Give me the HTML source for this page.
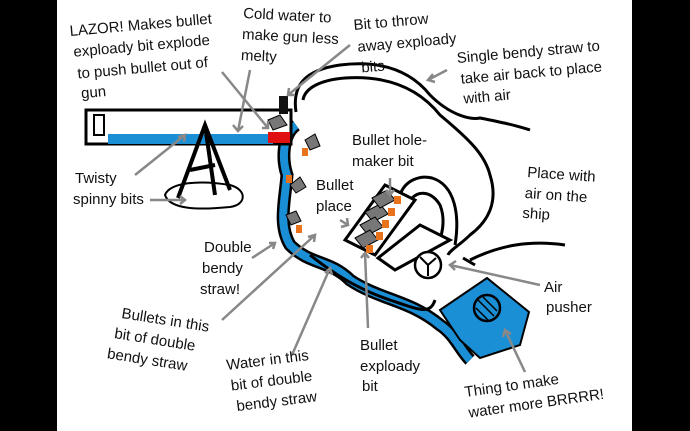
<!DOCTYPE html>
<html><head><meta charset="utf-8"><style>
html,body{margin:0;padding:0;background:#000;}
svg{display:block}
text{font-family:"Comic Sans MS","Liberation Sans",sans-serif;font-size:15px;fill:#111;}
</style></head><body>
<svg width="690" height="431" viewBox="0 0 690 431" xmlns="http://www.w3.org/2000/svg">
<rect x="0" y="0" width="690" height="431" fill="#000"/>
<rect x="57" y="0" width="575" height="431" fill="#fff"/>
<!-- outer hull -->
<path d="M296,112 C292,85 305,70 340,65 C380,60 410,70 430,95 C450,115 470,120 480,118 C500,122 515,125 530,130" fill="none" stroke="#000" stroke-width="3"/>
<path d="M303,100 C305,88 320,80 345,78 C390,75 420,90 440,115 C470,140 485,155 490,175 C498,200 490,220 470,235 C460,245 450,250 448,255" fill="none" stroke="#000" stroke-width="3"/>
<path d="M470,260 C500,245 530,240 565,245" fill="none" stroke="#000" stroke-width="3"/>
<path d="M463,258 L475,265" fill="none" stroke="#000" stroke-width="3"/>
<!-- inner U (bullet hole maker) -->
<path d="M400,195 C405,180 420,175 432,178 C455,185 460,215 455,245" fill="none" stroke="#000" stroke-width="3"/>
<path d="M412,198 C420,190 432,192 440,205 C446,220 442,235 438,245" fill="none" stroke="#000" stroke-width="3"/>
<!-- bullet place box -->
<polygon points="345,240 385,185 415,200 375,255" fill="#fff" stroke="#000" stroke-width="3"/>
<polygon points="378,258 420,225 450,240 395,270" fill="#fff" stroke="#000" stroke-width="3"/>
<g fill="#777" stroke="#000" stroke-width="1">
<path d="M365,212 l15,-8 l8,10 l-15,8z"/><path d="M360,225 l15,-8 l8,10 l-15,8z"/><path d="M355,238 l15,-8 l8,10 l-15,8z"/><path d="M372,198 l15,-8 l8,10 l-15,8z"/>
</g>
<g fill="#e8731c"><rect x="388" y="208" width="7" height="8"/><rect x="382" y="220" width="7" height="8"/><rect x="376" y="232" width="7" height="8"/><rect x="366" y="245" width="7" height="8"/><rect x="394" y="196" width="7" height="8"/></g>
<!-- air pusher -->
<circle cx="428" cy="265" r="13" fill="#fff" stroke="#000" stroke-width="2.5"/>
<path d="M428,265 L420,257 M428,265 L436,258 M428,265 L428,276" stroke="#000" stroke-width="2"/>
<!-- blue tube -->
<path d="M296,125 C282,135 282,160 287,175 C285,200 278,225 290,245 C310,265 330,260 350,280 C380,300 410,300 440,325 C455,335 460,350 470,360" fill="none" stroke="#000" stroke-width="13"/>
<path d="M296,125 C282,135 282,160 287,175 C285,200 278,225 290,245 C310,265 330,260 350,280 C380,300 410,300 440,325 C455,335 460,350 470,360" fill="none" stroke="#1b8fd6" stroke-width="8"/>
<path d="M310,255 C335,275 360,290 390,300 C420,310 430,315 435,300" fill="none" stroke="#000" stroke-width="3"/>
<!-- blue box -->
<polygon points="440,310 487,278 529,312 520,345 480,358 460,340" fill="#1b8fd6" stroke="#000" stroke-width="2"/>
<circle cx="487" cy="308" r="13" fill="#1b8fd6" stroke="#000" stroke-width="2.5"/>
<path d="M478,300 l16,16 M476,308 l12,12 M483,297 l14,14" stroke="#000" stroke-width="1.5"/>
<!-- gun barrel -->
<rect x="86" y="110" width="205" height="34" fill="#fff" stroke="#000" stroke-width="3"/>
<rect x="108" y="134" width="165" height="10" fill="#1b8fd6"/>
<rect x="268" y="132" width="22" height="11" fill="#e01010"/>
<rect x="94" y="115" width="10" height="20" fill="#fff" stroke="#000" stroke-width="2"/>
<rect x="279" y="96" width="9" height="18" fill="#111"/>
<path d="M268,120 l12,-5 l7,10 l-14,5z" fill="#777" stroke="#000"/>
<!-- twisty stand -->
<path d="M165,195 C170,182 200,180 230,185 C248,190 246,205 230,207 C200,210 170,210 165,195z" fill="#fff" stroke="#000" stroke-width="2"/>
<path d="M178,198 L205,125 L230,190 M190,170 L215,165 M205,125 L215,195" fill="none" stroke="#000" stroke-width="4"/>
<!-- small bullets along tube -->
<g fill="#777" stroke="#000"><path d="M290,185 l10,-8 l6,10 l-10,6z"/><path d="M305,140 l10,-6 l5,12 l-10,4z"/><path d="M286,215 l10,-4 l5,10 l-10,4z"/></g>
<g fill="#e8731c"><rect x="302" y="148" width="6" height="8"/><rect x="286" y="175" width="6" height="8"/><rect x="296" y="225" width="6" height="8"/></g>
<!-- arrows -->
<g stroke="#888" stroke-width="2.5" fill="none">
<path d="M222,72 L268,128 M262,128 L268,128 L268,121"/>
<path d="M250,70 L238,131 M233,125 L238,131 L243,126"/>
<path d="M350,45 L288,95 M289,88 L288,95 L295,95"/>
<path d="M447,70 L428,80 M433,74 L428,80 L435,82"/>
<path d="M135,175 L185,135 M178,137 L185,135 L184,142"/>
<path d="M150,200 L185,200 M180,196 L185,200 L180,204"/>
<path d="M252,258 L275,243 M269,243 L275,243 L273,249"/>
<path d="M222,320 L315,235 M308,237 L315,235 L314,242"/>
<path d="M292,355 L330,268 M325,273 L330,268 L332,275"/>
<path d="M368,328 L365,253 M361,258 L365,253 L369,258"/>
<path d="M340,220 L348,225 M341,227 L348,225 L347,218"/>
<path d="M390,178 L390,195 M386,190 L390,195 L394,190"/>
<path d="M540,285 L450,265 M456,261 L450,265 L455,270"/>
<path d="M525,372 L505,330 M503,337 L505,330 L511,334"/>
</g>
<!-- labels -->
<g transform="rotate(-5 70 35)"><text x="70" y="36">LAZOR! Makes bullet</text><text x="72" y="57">exploady bit explode</text><text x="74" y="79">to push bullet out of</text><text x="76" y="99">gun</text></g>
<g transform="rotate(3 243 17)"><text x="243" y="18">Cold water to</text><text x="243" y="39">make gun less</text><text x="243" y="60">melty</text></g>
<g transform="rotate(-5 354 30)"><text x="354" y="30">Bit to throw</text><text x="356" y="52">away exploady</text><text x="358" y="73">bits</text></g>
<g transform="rotate(-5 457 60)"><text x="457" y="63">Single bendy straw to</text><text x="459" y="84">take air back to place</text><text x="460" y="104">with air</text></g>
<text x="75" y="183">Twisty</text><text x="73" y="204">spinny bits</text>
<text x="352" y="145">Bullet hole-</text><text x="352" y="166">maker bit</text>
<text x="316" y="190">Bullet</text><text x="316" y="211">place</text>
<g transform="rotate(4 527 177)"><text x="527" y="177">Place with</text><text x="526" y="198">air on the</text><text x="525" y="218">ship</text></g>
<text x="204" y="252">Double</text><text x="202" y="273">bendy</text><text x="200" y="294">straw!</text>
<g transform="rotate(9 122 312)"><text x="122" y="318">Bullets in this</text><text x="118" y="339">bit of double</text><text x="114" y="360">bendy straw</text></g>
<g transform="rotate(-7 227 370)"><text x="227" y="370">Water in this</text><text x="229" y="391">bit of double</text><text x="232" y="412">bendy straw</text></g>
<text x="360" y="350">Bullet</text><text x="360" y="371">exploady</text><text x="362" y="391">bit</text>
<text x="544" y="292">Air</text><text x="546" y="312">pusher</text>
<g transform="rotate(-8 465 395)"><text x="465" y="397">Thing to make</text><text x="466" y="418">water more BRRRR!</text></g>
</svg>
</body></html>
